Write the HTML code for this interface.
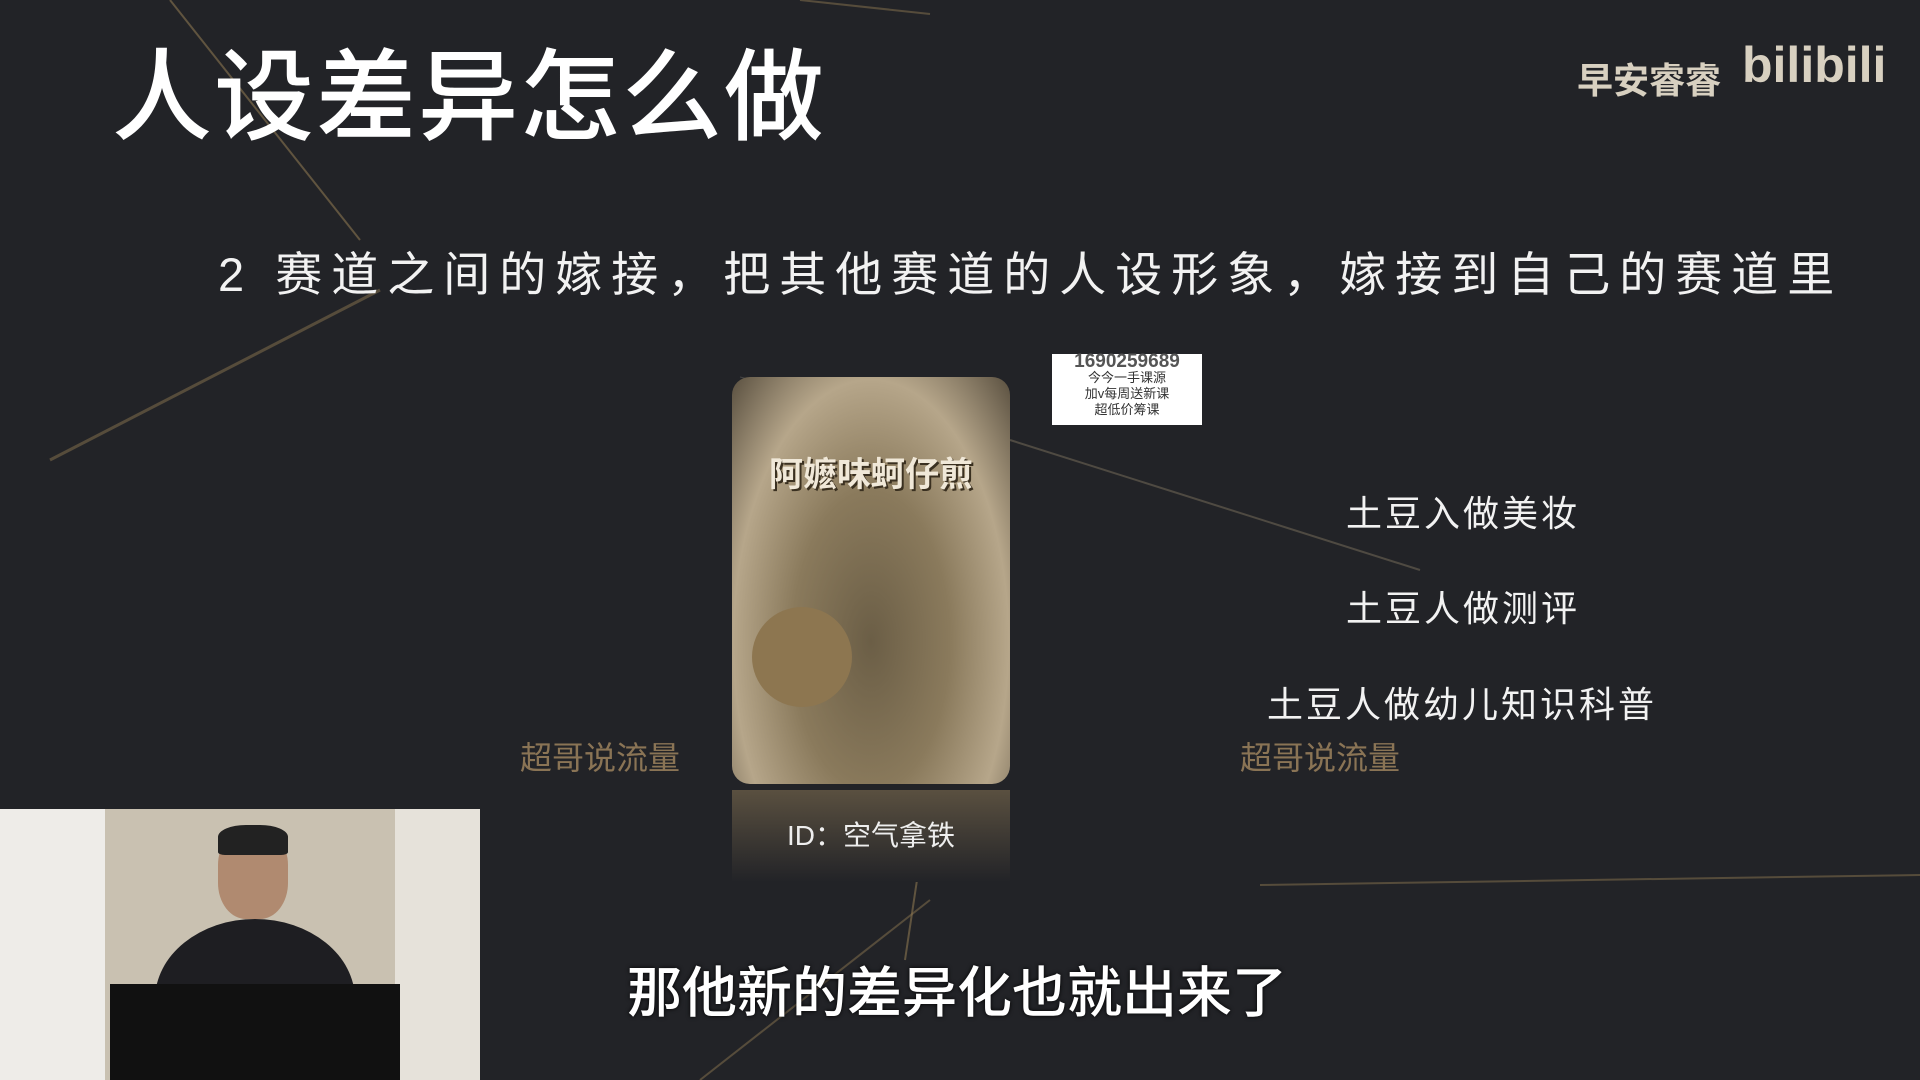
<!DOCTYPE html>
<html><head><meta charset="utf-8">
<style>
html,body{margin:0;padding:0}
body{width:1920px;height:1080px;background:#222327;position:relative;overflow:hidden;font-family:"Liberation Sans","Noto Sans CJK SC",sans-serif;color:#f2f2f2}
.abs{position:absolute;white-space:nowrap}
</style></head><body>
<svg class="abs" style="left:0;top:0" width="1920" height="1080">
<line x1="170" y1="0" x2="360" y2="240" stroke="#8a7550" stroke-width="2" opacity="0.6"/>
<line x1="50" y1="460" x2="380" y2="290" stroke="#8a7550" stroke-width="3" opacity="0.5"/>
<line x1="800" y1="0" x2="930" y2="14" stroke="#8a7550" stroke-width="2" opacity="0.5"/>
<line x1="1010" y1="440" x2="1420" y2="570" stroke="#6d6555" stroke-width="2" opacity="0.6"/>
<line x1="1260" y1="885" x2="1920" y2="875" stroke="#8a7550" stroke-width="2" opacity="0.5"/>
<line x1="740" y1="377" x2="1010" y2="440" stroke="#444" stroke-width="1"/>
<line x1="700" y1="1080" x2="930" y2="900" stroke="#8a7550" stroke-width="2" opacity="0.5"/>
<line x1="920" y1="860" x2="905" y2="960" stroke="#8a7550" stroke-width="2" opacity="0.6"/>
</svg>
<div class="abs" style="left:112px;top:16px;font-size:100px;font-weight:500;letter-spacing:2px;color:#fff">人设差异怎么做</div>
<div class="abs" style="left:1577px;top:52px;font-size:36px;font-weight:bold;color:#d8d0c0">早安睿睿</div>
<div class="abs" style="left:1742px;top:36px;font-size:50px;font-weight:bold;color:#d8d0c0">bilibili</div>
<div class="abs" style="left:218px;top:236px;font-size:47px;letter-spacing:9px;color:#f2f2f2">2 赛道之间的嫁接，把其他赛道的人设形象，嫁接到自己的赛道里</div>
<div class="abs" style="left:732px;top:377px;width:278px;height:407px;border-radius:18px;background:radial-gradient(ellipse at 50% 65%,#6b5e46 0%,#8a7a5c 40%,#b6a68a 70%,#5a5040 100%);overflow:hidden">
 <div class="abs" style="left:0;top:70px;width:278px;text-align:center;font-size:34px;font-weight:bold;color:#f0e8d8;text-shadow:2px 2px 0 #3a3020">阿嬷味蚵仔煎</div>
 <div class="abs" style="left:20px;top:230px;width:100px;height:100px;border-radius:50%;background:#8d7650"></div>
</div>
<div class="abs" style="left:732px;top:790px;width:278px;height:92px;background:linear-gradient(#5a5040,#222327)"></div>
<div class="abs" style="left:787px;top:814px;font-size:28px;color:#eee">ID：空气拿铁</div>
<div class="abs" style="left:1052px;top:354px;width:150px;height:71px;background:#fff;color:#333;font-size:13px;line-height:16px;text-align:center">
<div style="font-size:19px;font-weight:bold;color:#555">1690259689</div>今今一手课源<br>加v每周送新课<br>超低价筹课</div>
<div class="abs" style="left:1346px;top:485px;font-size:36px;letter-spacing:3px">土豆入做美妆</div>
<div class="abs" style="left:1346px;top:580px;font-size:36px;letter-spacing:3px">土豆人做测评</div>
<div class="abs" style="left:1267px;top:676px;font-size:36px;letter-spacing:3px">土豆人做幼儿知识科普</div>
<div class="abs" style="left:520px;top:733px;font-size:32px;color:#8a7455">超哥说流量</div>
<div class="abs" style="left:1240px;top:733px;font-size:32px;color:#8a7455">超哥说流量</div>
<div class="abs" style="left:0;top:809px;width:480px;height:271px;background:#d8d4cc">
 <div class="abs" style="left:0;top:0;width:105px;height:271px;background:#eeece8"></div>
 <div class="abs" style="left:105px;top:0;width:290px;height:271px;background:#c9c1b1"></div>
 <div class="abs" style="left:395px;top:0;width:85px;height:271px;background:#e6e2da"></div>
 <div class="abs" style="left:218px;top:20px;width:70px;height:90px;border-radius:40%;background:#b08a70"></div>
 <div class="abs" style="left:218px;top:16px;width:70px;height:30px;border-radius:40% 40% 10% 10%;background:#222"></div>
 <div class="abs" style="left:155px;top:110px;width:200px;height:161px;border-radius:50% 50% 0 0;background:#1e1e22"></div>
 <div class="abs" style="left:110px;top:175px;width:290px;height:96px;background:#111"></div>
</div>
<div class="abs" style="left:627px;top:948px;font-size:55px;font-weight:500;color:#fff;text-shadow:0 0 4px #000">那他新的差异化也就出来了</div>
</body></html>
